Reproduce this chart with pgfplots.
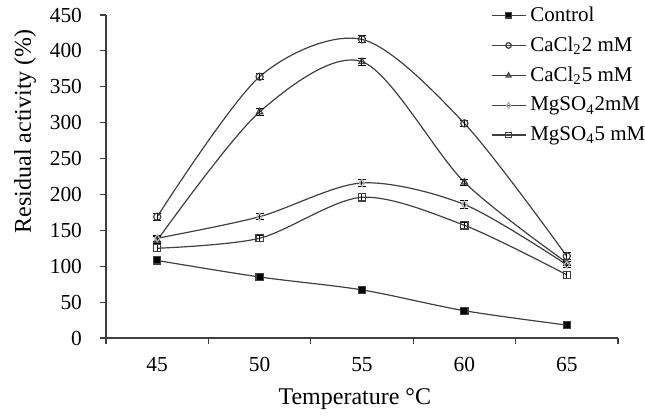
\documentclass[border=0pt]{standalone}
\usepackage{fontspec}
\setmainfont{Liberation Serif}
\usepackage{pgfplots}
\pgfplotsset{compat=1.18}

\definecolor{ln}{HTML}{404040}

\begin{document}
\begin{tikzpicture}
% page = 645x418 px at 0.5pt per px; axis box lower-left at (0,0)
\useasboundingbox (-53pt,-40pt) rectangle (269.5pt,169pt);
\begin{axis}[
    scale only axis,
    width=256pt, height=161.5pt,
    xmin=0.5, xmax=5.5,
    ymin=0, ymax=450,
    axis lines=left,
    axis line style={-, draw=ln, line width=0.6pt},
    xtick={1,2,3,4,5},
    xticklabels={45,50,55,60,65},
    minor xtick={0.5,1.5,2.5,3.5,4.5,5.5},
    ytick={0,50,...,450},
    tick align=outside,
    major tick length=3pt,
    minor tick length=3pt,
    x tick style={draw=none},
    minor x tick style={draw=ln, line width=0.6pt},
    y tick style={draw=ln, line width=0.6pt},
    every tick label/.append style={font=\fontsize{10.7}{12.8}\selectfont},
    xticklabel style={yshift=-3pt},
    yticklabel style={xshift=-5.5pt},
    /pgf/number format/assume math mode=true,
    xlabel={Temperature °C},
    ylabel={Residual activity (\%)},
    xlabel style={at={(axis description cs:0.486,-0.19)}, anchor=center, font=\fontsize{12}{14}\selectfont},
    ylabel style={at={(axis description cs:-0.158,0.64)}, anchor=center, font=\fontsize{12}{14}\selectfont},
    legend style={at={(rel axis cs:0.751,1.04)}, anchor=north west, draw=none, fill=none,
        font=\fontsize{10.5}{12.6}\selectfont, row sep=2.3pt, inner sep=0pt,
        cells={anchor=west}},
    legend image post style={line width=0.6pt, mark size=1.4pt},
    every axis plot/.append style={draw=ln, line width=0.6pt, smooth, tension=0.5,
        mark size=1.8pt, mark options={solid, line width=0.4pt, draw=black}},
    error bars/y dir=both,
    error bars/y explicit,
    error bars/error mark options={rotate=90, mark size=2pt, line width=0.5pt, draw=black},
    error bars/error bar style={line width=0.5pt, draw=black},
    clip=false,
]
\addplot[mark=square*, mark options={fill=black}] coordinates {
    (1,108) +- (0,3)
    (2,85) +- (0,4)
    (3,67) +- (0,4)
    (4,38) +- (0,4)
    (5,18) +- (0,4)
};
\addlegendentry{Control}
\addplot[mark=o, mark options={fill=white}] coordinates {
    (1,169) +- (0,5)
    (2,364) +- (0,4)
    (3,416) +- (0,5)
    (4,299) +- (0,4)
    (5,114) +- (0,5)
};
\addlegendentry{CaCl\textsubscript{2}2 mM}
\addplot[mark=triangle, mark options={fill=white}] coordinates {
    (1,136) +- (0,5)
    (2,315) +- (0,5)
    (3,385) +- (0,5)
    (4,217) +- (0,4)
    (5,105) +- (0,4)
};
\addlegendentry{CaCl\textsubscript{2}5 mM}
\addplot[mark=diamond, mark options={draw=gray!60, fill=white}] coordinates {
    (1,139) +- (0,4)
    (2,169) +- (0,4)
    (3,216) +- (0,5)
    (4,186) +- (0,6)
    (5,102) +- (0,4)
};
\addlegendentry{MgSO\textsubscript{4}2mM}
\addplot[mark=square, mark options={fill=white}] coordinates {
    (1,125) +- (0,5)
    (2,139) +- (0,4)
    (3,196) +- (0,5)
    (4,157) +- (0,4)
    (5,88) +- (0,5)
};
\addlegendentry{MgSO\textsubscript{4}5 mM}
\end{axis}
\end{tikzpicture}
\end{document}
